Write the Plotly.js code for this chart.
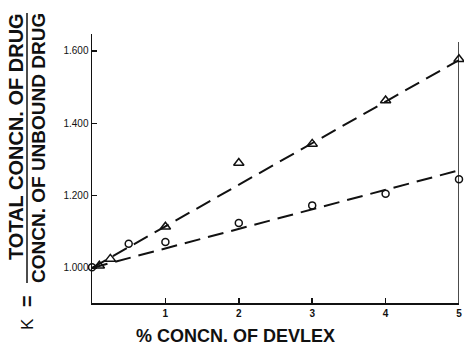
<!DOCTYPE html>
<html><head><meta charset="utf-8">
<script src="https://cdn.plot.ly/plotly-3.0.1.min.js"></script>
<style>html,body{margin:0;padding:0;background:#fff}#chart{width:464px;height:348px}</style>
</head><body><div id="chart"></div>
<script>
// ---- data ----
const xTickVals = [1, 2, 3, 4, 5];
const xTickText = ['1', '2', '3', '4', '5'];
const yTickVals = [1.0, 1.2, 1.4, 1.6];
const yTickText = ['1.000', '1.200', '1.400', '1.600'];
const triX = [0.1, 0.25, 1, 2, 3, 4, 5];
const triY = [1.006, 1.025, 1.114, 1.290, 1.343, 1.463, 1.577];
const circX = [0, 0.5, 1, 2, 3, 4, 5];
const circY = [1.002, 1.067, 1.072, 1.124, 1.173, 1.205, 1.245];
const fitX = [0, 5];
const triFit = [1.0, 1.575];
const circFit = [1.0, 1.27];
const xTitle = '% CONCN. OF DEVLEX';
const yNum = 'TOTAL CONCN. OF DRUG';
const yDen = 'CONCN. OF UNBOUND DRUG';

// ---- layout helpers ----
const L = 92, R = 5, T = 34, B = 45, Wd = 464, Ht = 348;
const PW = Wd - L - R, PH = Ht - T - B;
const px = x => (x - L) / PW;
const py = y => (Ht - B - y) / PH;
const ink = '#111';
const fam = '"Liberation Sans", Arial, sans-serif';

const traces = [
  {x: fitX, y: triFit, mode: 'lines', line: {color: ink, width: 2, dash: '16px,8px'}, hoverinfo: 'skip'},
  {x: fitX, y: circFit, mode: 'lines', line: {color: ink, width: 2, dash: '16px,8px'}, hoverinfo: 'skip'},
  {x: triX, y: triY, mode: 'markers', cliponaxis: false,
   marker: {symbol: 'triangle-up-open', size: 9, color: ink, line: {width: 1.5, color: ink}}},
  {x: circX, y: circY, mode: 'markers', cliponaxis: false,
   marker: {symbol: 'circle-open', size: 7, color: ink, line: {width: 1.5, color: ink}}}
];

const layout = {
  width: Wd, height: Ht,
  margin: {l: L, r: R, t: T, b: B},
  paper_bgcolor: '#fff', plot_bgcolor: '#fff',
  showlegend: false,
  font: {family: fam, color: ink},
  xaxis: {
    range: [0, 5], tickvals: xTickVals, ticktext: xTickText,
    showline: true, linecolor: ink, linewidth: 1.5, ticks: 'inside', ticklen: 5, tickwidth: 1.5, tickcolor: ink,
    showgrid: false, zeroline: false, tickfont: {size: 10, family: fam, color: ink, weight: 'bold'}
  },
  yaxis: {
    range: [0.903, 1.647], tickvals: yTickVals, ticktext: yTickText,
    showline: true, linecolor: ink, linewidth: 1.5, ticks: 'inside', ticklen: 5, tickwidth: 1.5, tickcolor: ink,
    showgrid: false, zeroline: false, tickfont: {size: 10, family: fam, color: ink}
  },
  shapes: [
    {type: 'line', xref: 'x', yref: 'paper', x0: 5, x1: 5, y0: 0, y1: py(42), line: {color: ink, width: 1.5}},
    {type: 'line', xref: 'paper', yref: 'paper', x0: px(27), x1: px(27), y0: py(283), y1: py(13), line: {color: ink, width: 1.5}}
  ],
  annotations: [
    {text: xTitle, xref: 'paper', yref: 'paper', x: px(235), y: py(336), xanchor: 'center', yanchor: 'middle', showarrow: false,
     font: {size: 18, family: fam, color: ink, weight: 'bold'}},
    {text: yNum, xref: 'paper', yref: 'paper', x: px(16), y: py(137), xanchor: 'center', yanchor: 'middle', showarrow: false, textangle: -90,
     font: {size: 20, family: fam, color: ink, weight: 'bold'}},
    {text: yDen, xref: 'paper', yref: 'paper', x: px(38), y: py(148), xanchor: 'center', yanchor: 'middle', showarrow: false, textangle: -90,
     font: {size: 19, family: fam, color: ink, weight: 'bold'}},
    {text: '=', xref: 'paper', yref: 'paper', x: px(27), y: py(301), xanchor: 'center', yanchor: 'middle', showarrow: false, textangle: -90,
     font: {size: 20, family: fam, color: ink, weight: 'bold'}},
    {text: 'K', xref: 'paper', yref: 'paper', x: px(27), y: py(324), xanchor: 'center', yanchor: 'middle', showarrow: false, textangle: -90,
     font: {size: 17, family: fam, color: ink}}
  ]
};

Plotly.newPlot('chart', traces, layout, {displayModeBar: false, staticPlot: true});
</script>
</body></html>
